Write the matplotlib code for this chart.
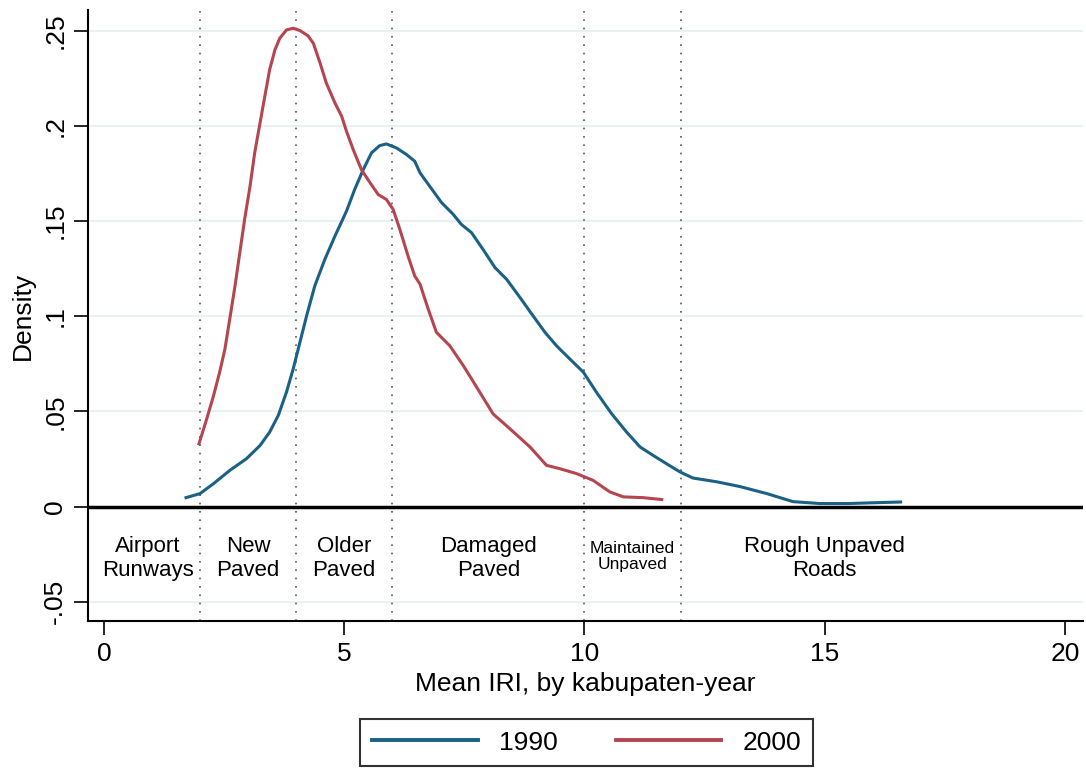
import numpy as np
import matplotlib.pyplot as plt

plt.rcParams['font.family'] = ['Liberation Sans', 'DejaVu Sans']

# kernel density of mean IRI
iri_1990 = [1.71, 2.00, 2.28, 2.62, 2.97, 3.25, 3.45, 3.63, 3.80, 3.94, 4.08, 4.22,
            4.39, 4.60, 4.81, 5.05, 5.22, 5.40, 5.57, 5.74, 5.88, 6.09, 6.30, 6.47,
            6.58, 6.78, 7.03, 7.27, 7.44, 7.65, 7.89, 8.14, 8.38, 8.66, 8.93, 9.18,
            9.42, 9.66, 9.98, 10.25, 10.57, 10.88, 11.16, 11.43, 11.71, 11.99, 12.26,
            12.76, 13.24, 13.8, 14.34, 14.9, 15.5, 16.0, 16.58]
dens_1990 = [0.0047, 0.0068, 0.012, 0.019, 0.0252, 0.0321, 0.0391, 0.0479, 0.0601,
             0.0723, 0.0863, 0.1003, 0.116, 0.130, 0.1422, 0.1553, 0.1667, 0.1772,
             0.1859, 0.1897, 0.1906, 0.1885, 0.185, 0.1815, 0.1754, 0.1684, 0.1597,
             0.1536, 0.1483, 0.144, 0.1352, 0.1256, 0.1195, 0.1099, 0.1003, 0.0916,
             0.0845, 0.0785, 0.0706, 0.0601, 0.0487, 0.0391, 0.0313, 0.0269, 0.0225,
             0.0182, 0.015, 0.013, 0.0105, 0.0068, 0.0026, 0.0016, 0.0016, 0.0020,
             0.0024]

iri_2000 = [1.98, 2.14, 2.28, 2.41, 2.52, 2.62, 2.73, 2.83, 2.93, 3.04, 3.14, 3.25,
            3.35, 3.45, 3.56, 3.66, 3.80, 3.94, 4.08, 4.25, 4.36, 4.50, 4.63, 4.81,
            4.95, 5.05, 5.19, 5.36, 5.54, 5.71, 5.88, 6.02, 6.16, 6.33, 6.47, 6.58,
            6.75, 6.92, 7.2, 7.48, 7.76, 8.10, 8.45, 8.87, 9.21, 9.49, 9.84, 10.18,
            10.53, 10.81, 11.22, 11.61]
dens_2000 = [0.033, 0.046, 0.058, 0.0706, 0.0828, 0.0985, 0.116, 0.1335, 0.151, 0.168,
             0.186, 0.2016, 0.2156, 0.2296, 0.240, 0.2461, 0.2505, 0.2514, 0.2502,
             0.2474, 0.2435, 0.2331, 0.2226, 0.2121, 0.2051, 0.1972, 0.1876, 0.1771,
             0.1702, 0.164, 0.1614, 0.1562, 0.1457, 0.1317, 0.1212, 0.1169, 0.1038,
             0.0916, 0.0845, 0.0741, 0.0627, 0.0487, 0.0409, 0.0313, 0.0217, 0.0199,
             0.0173, 0.0138, 0.0077, 0.0051, 0.0047, 0.0037]

cutoffs = [2, 4, 6, 10, 12]
road_labels = ['Airport\nRunways', 'New\nPaved', 'Older\nPaved', 'Damaged\nPaved',
               'Maintained\nUnpaved', 'Rough Unpaved\nRoads']
label_x = [0.92, 3.0, 5.0, 8.0, 11.0, 15.0]

yticks = [-0.05, 0, 0.05, 0.1, 0.15, 0.2, 0.25]
ytick_labels = ['-.05', '0', '.05', '.1', '.15', '.2', '.25']
xticks = [0, 5, 10, 15, 20]

blue = '#1b6185'
red = '#b5454f'

fig = plt.figure(figsize=(10.86, 7.68), dpi=100)
ax = fig.add_axes([0.081, 0.191, 0.916, 0.796])

for y in yticks:
    if y != 0:
        ax.axhline(y, color='#eaf2f1', linewidth=1.5, zorder=0)

for c in cutoffs:
    ax.axvline(c, color='#555555', linestyle=(0, (1, 4)), linewidth=1.2, zorder=1)

ax.axhline(0, color='black', linewidth=2.5, zorder=2)

ax.plot(iri_1990, dens_1990, color=blue, linewidth=2.2, label='1990', zorder=3,
        solid_joinstyle='round')
ax.plot(iri_2000, dens_2000, color=red, linewidth=2.2, label='2000', zorder=3,
        solid_joinstyle='round')

for lx, txt in zip(label_x, road_labels):
    if txt.startswith('Maintained'):
        ax.text(lx, -0.0262, txt, ha='center', va='center', fontsize=12.5,
                linespacing=1.05)
    else:
        ax.text(lx, -0.0272, txt, ha='center', va='center', fontsize=16,
                linespacing=1.15)

ax.set_xlim(-0.33, 20.37)
ax.set_ylim(-0.0603, 0.261)
ax.set_xticks(xticks)
ax.set_xticklabels([str(v) for v in xticks])
ax.set_yticks(yticks)
ax.set_yticklabels(ytick_labels, rotation=90, va='center')
ax.tick_params(axis='both', labelsize=19, length=10, width=1.2, pad=5)

for side in ['top', 'right']:
    ax.spines[side].set_visible(False)
for side in ['left', 'bottom']:
    ax.spines[side].set_linewidth(1.5)

ax.set_xlabel('Mean IRI, by kabupaten-year', fontsize=19, labelpad=4)
ax.set_ylabel('Density', fontsize=19, labelpad=6)

leg = fig.legend(loc='lower center', bbox_to_anchor=(0.54, 0.002), ncol=2,
                 fontsize=19, handlelength=4, columnspacing=2.2, handletextpad=0.8,
                 fancybox=False, edgecolor='black', borderpad=0.45, borderaxespad=0)
leg.get_frame().set_linewidth(1.5)
for line in leg.get_lines():
    line.set_linewidth(2.8)

fig.savefig('out.png', dpi=100)
